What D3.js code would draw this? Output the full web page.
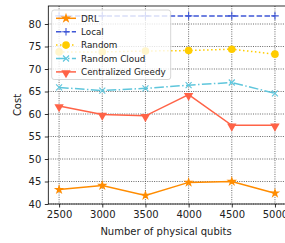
<!DOCTYPE html>
<html>
<head>
<meta charset="utf-8">
<script src="https://cdn.jsdelivr.net/npm/d3@7"></script>
<style>
  html, body { margin: 0; padding: 0; background: #fff; }
  svg { display: block; font-family: "DejaVu Sans", sans-serif; }
</style>
</head>
<body>
<svg id="chart" width="285" height="243"></svg>
<script>
// data
const qubits = [2500, 3000, 3500, 4000, 4500, 5000];
const drl = [43.2, 44.1, 41.9, 44.8, 45.0, 42.4];
const local = [81.8, 81.8, 81.8, 81.8, 81.8, 81.8];
const random = [73.8, 73.8, 74.0, 74.1, 74.4, 73.3];
const randomCloud = [65.9, 65.2, 65.7, 66.4, 67.0, 64.6];
const greedy = [61.8, 59.9, 59.6, 64.3, 57.5, 57.5];
const yTicks = [40, 45, 50, 55, 60, 65, 70, 75, 80];

const series = [
  { name: "DRL", values: drl, color: "#ff8c00", dash: null, marker: "star" },
  { name: "Local", values: local, color: "#3f57d6", dash: "5.5,2.4", marker: "plus" },
  { name: "Random", values: random, color: "#ffcc00", dash: "1.5,2.5", marker: "circle" },
  { name: "Random Cloud", values: randomCloud, color: "#5fc6dc", dash: "9.6,2.4,1.5,2.4", marker: "x" },
  { name: "Centralized Greedy", values: greedy, color: "#ff6347", dash: null, marker: "tri" }
];

const svg = d3.select("#chart");
const L = 48.3, T = 6, R = 285.75, B = 204;

const x = d3.scaleLinear().domain([2375, 5125]).range([L, R]);
const y = d3.scaleLinear().domain([40, 84]).range([B, T]);

// grid
const grid = svg.append("g");
grid.selectAll(".gx").data(qubits).enter().append("line")
  .attr("x1", d => x(d)).attr("x2", d => x(d)).attr("y1", T).attr("y2", B)
  .attr("stroke", "#444").attr("stroke-width", 0.8).attr("stroke-dasharray", "1,1.3");
grid.selectAll(".gy").data(yTicks).enter().append("line")
  .attr("x1", L).attr("x2", R).attr("y1", d => y(d)).attr("y2", d => y(d))
  .attr("stroke", "#444").attr("stroke-width", 0.8).attr("stroke-dasharray", "1,1.3");

// axes
const xAxis = svg.append("g").attr("transform", `translate(0,${B})`)
  .call(d3.axisBottom(x).tickValues(qubits).tickSize(3.5).tickPadding(3.5).tickFormat(d3.format("d")));
const yAxis = svg.append("g").attr("transform", `translate(${L},0)`)
  .call(d3.axisLeft(y).tickValues(yTicks).tickSize(3.5).tickPadding(3.5));
[xAxis, yAxis].forEach(a => {
  a.select(".domain").remove();
  a.selectAll("line").attr("stroke", "#000").attr("stroke-width", 0.8);
  a.selectAll("text").attr("font-family", "DejaVu Sans").attr("font-size", 10).attr("fill", "#222");
});

svg.append("rect").attr("x", L).attr("y", T).attr("width", R - L).attr("height", B - T)
  .attr("fill", "none").attr("stroke", "#000").attr("stroke-width", 0.8);

svg.append("text").attr("x", (L + R) / 2 - 1).attr("y", 234.5).attr("text-anchor", "middle")
  .attr("font-size", 10).attr("fill", "#222").text("Number of physical qubits");
svg.append("text").attr("transform", "translate(20.5,105) rotate(-90)").attr("text-anchor", "middle")
  .attr("font-size", 10).attr("fill", "#222").text("Cost");

function drawMarker(g, kind, color) {
  if (kind === "circle") {
    g.append("circle").attr("r", 3.8).attr("fill", color);
  } else if (kind === "star") {
    g.append("path").attr("d", d3.symbol(d3.symbolStar, 34)()).attr("fill", color);
  } else if (kind === "tri") {
    g.append("path").attr("d", d3.symbol(d3.symbolTriangle, 38)()).attr("transform", "rotate(180) translate(0,-1)").attr("fill", color);
  } else if (kind === "plus") {
    g.append("path").attr("d", "M-3.8,0H3.8M0,-3.8V3.8").attr("stroke", color).attr("stroke-width", 1.1);
  } else if (kind === "x") {
    g.append("path").attr("d", "M-3,-3L3,3M-3,3L3,-3").attr("stroke", color).attr("stroke-width", 1.1);
  }
}

const line = d3.line().x((d, i) => x(qubits[i])).y(d => y(d));
const plot = svg.append("g");
series.forEach(s => {
  plot.append("path").datum(s.values).attr("d", line)
    .attr("fill", "none").attr("stroke", s.color).attr("stroke-width", 1.5)
    .attr("stroke-dasharray", s.dash);
  s.values.forEach((v, i) => {
    const g = plot.append("g").attr("transform", `translate(${x(qubits[i])},${y(v)})`);
    drawMarker(g, s.marker, s.color);
  });
});

// legend
const lg = svg.append("g");
lg.append("rect").attr("x", 51.7).attr("y", 10).attr("width", 119).attr("height", 69.5).attr("rx", 2.5)
  .attr("fill", "#fff").attr("fill-opacity", 0.8).attr("stroke", "#ccc").attr("stroke-width", 0.8);
series.forEach((s, i) => {
  const yy = 18.3 + i * 13.4;
  lg.append("line").attr("x1", 56).attr("x2", 76).attr("y1", yy).attr("y2", yy)
    .attr("stroke", s.color).attr("stroke-width", 1.5).attr("stroke-dasharray", s.dash);
  drawMarker(lg.append("g").attr("transform", `translate(66,${yy})`), s.marker, s.color);
  lg.append("text").attr("x", 81).attr("y", yy + 3.2).attr("font-size", 8.8).attr("fill", "#222").text(s.name);
});
</script>
</body>
</html>
